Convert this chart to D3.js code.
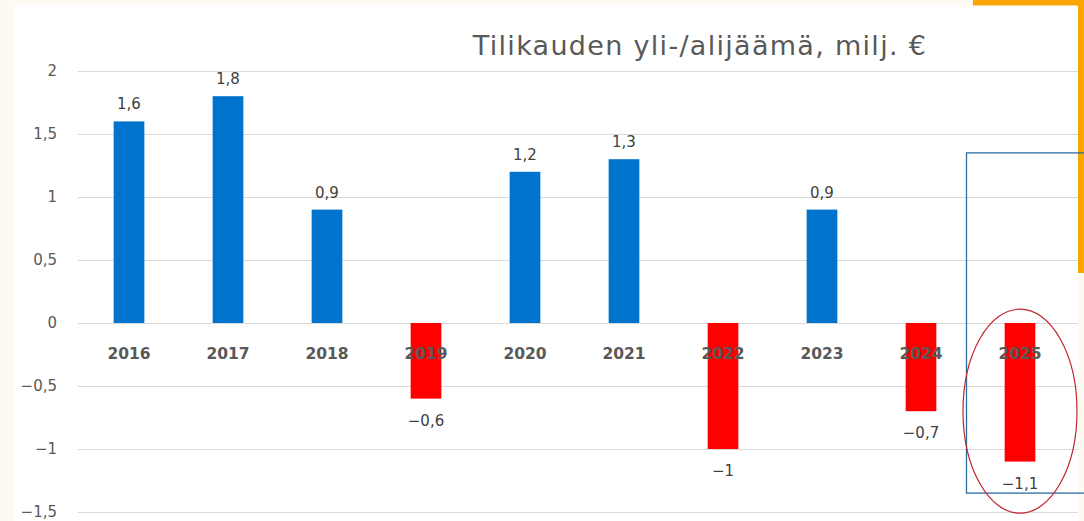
<!DOCTYPE html>
<html>
<head>
<meta charset="utf-8">
<script src="https://cdn.jsdelivr.net/npm/d3@7"></script>
<style>
  body { margin: 0; background: #fcfaf3; }
  svg { display: block; font-family: "DejaVu Sans", sans-serif; }
</style>
</head>
<body>
<div class="content"></div>
<script>
const years = ['2016', '2017', '2018', '2019', '2020', '2021', '2022', '2023', '2024', '2025']
const values = [1.6, 1.8, 0.9, -0.6, 1.2, 1.3, -1, 0.9, -0.7, -1.1]
const yTicks = [2, 1.5, 1, 0.5, 0, -0.5, -1, -1.5]
const title = 'Tilikauden yli-/alijäämä, milj. €'
const highlightYear = '2025'

const width = 1084
const height = 521
const plotLeft = 79.5
const plotRight = 1069.5

const fi = d3.formatLocale({ decimal: ',', thousands: ' ', grouping: [3], currency: ['', ' €'] })
const fmt = fi.format('')

const svg = d3.select('div.content')
    .append('svg')
    .attr('width', width)
    .attr('height', height)

// white panel and orange corner
svg.append('rect')
    .attr('x', 14).attr('y', 5)
    .attr('width', 1064).attr('height', height - 5)
    .attr('fill', 'white')
svg.append('path')
    .attr('d', 'M973,2.5 H1081 V273')
    .attr('fill', 'none')
    .attr('stroke', '#f9a602')
    .attr('stroke-width', 6)

const x = d3.scaleBand()
    .domain(years)
    .range([plotLeft, plotRight])
    .paddingInner(0.69)
    .paddingOuter(0.345)

const y = d3.scaleLinear()
    .domain([-1.5, 2])
    .range([512, 71])

// gridlines
svg.append('g')
    .selectAll('line')
    .data(yTicks)
    .join('line')
    .attr('x1', 78)
    .attr('x2', 1078)
    .attr('y1', d => Math.round(y(d)) + 0.5)
    .attr('y2', d => Math.round(y(d)) + 0.5)
    .attr('stroke', '#d9d9d9')
    .attr('stroke-width', 1)

// y axis labels
const yAxis = d3.axisLeft(y).tickValues(yTicks).tickFormat(fmt).tickSize(0).tickPadding(0)
svg.append('g')
    .attr('transform', 'translate(57,0)')
    .call(yAxis)
    .call(g => g.select('.domain').remove())
    .call(g => g.selectAll('text')
        .attr('fill', '#595959')
        .attr('dy', '0.3em')
        .style('font-size', '15px')
        .style('font-family', '"DejaVu Sans", sans-serif'))

// bars
svg.append('g')
    .selectAll('rect')
    .data(years)
    .join('rect')
    .attr('x', d => x(d))
    .attr('width', x.bandwidth())
    .attr('y', (d, i) => y(Math.max(0, values[i])))
    .attr('height', (d, i) => Math.abs(y(values[i]) - y(0)))
    .attr('fill', (d, i) => values[i] >= 0 ? '#0074cc' : '#ff0000')

// category labels
svg.append('g')
    .selectAll('text')
    .data(years)
    .join('text')
    .attr('x', d => x(d) + x.bandwidth() / 2)
    .attr('y', y(0) + 36)
    .attr('text-anchor', 'middle')
    .attr('fill', '#595959')
    .attr('font-weight', 'bold')
    .style('font-size', '15.5px')
    .text(d => d)

// value labels
svg.append('g')
    .selectAll('text')
    .data(years)
    .join('text')
    .attr('x', d => x(d) + x.bandwidth() / 2)
    .attr('y', (d, i) => values[i] >= 0 ? y(values[i]) - 12 : y(values[i]) + 27)
    .attr('text-anchor', 'middle')
    .attr('fill', '#404040')
    .style('font-size', '15px')
    .text((d, i) => fmt(values[i]))

// title
svg.append('text')
    .attr('x', 700)
    .attr('y', 55)
    .attr('text-anchor', 'middle')
    .attr('fill', '#595959')
    .style('font-size', '27px')
    .style('letter-spacing', '1.3px')
    .text(title)

// highlight box and ellipse around the last year
const hx = x(highlightYear) + x.bandwidth() / 2
svg.append('rect')
    .attr('x', hx - 53.5)
    .attr('y', y(1.35))
    .attr('width', 1078 - (hx - 53.5) + 10)
    .attr('height', y(-1.35) - y(1.35))
    .attr('fill', 'none')
    .attr('stroke', '#2e6ca4')
    .attr('stroke-width', 1.3)
svg.append('ellipse')
    .attr('cx', hx)
    .attr('cy', y(-0.7))
    .attr('rx', 57)
    .attr('ry', 102)
    .attr('fill', 'none')
    .attr('stroke', '#c0262d')
    .attr('stroke-width', 1.2)
</script>
</body>
</html>
